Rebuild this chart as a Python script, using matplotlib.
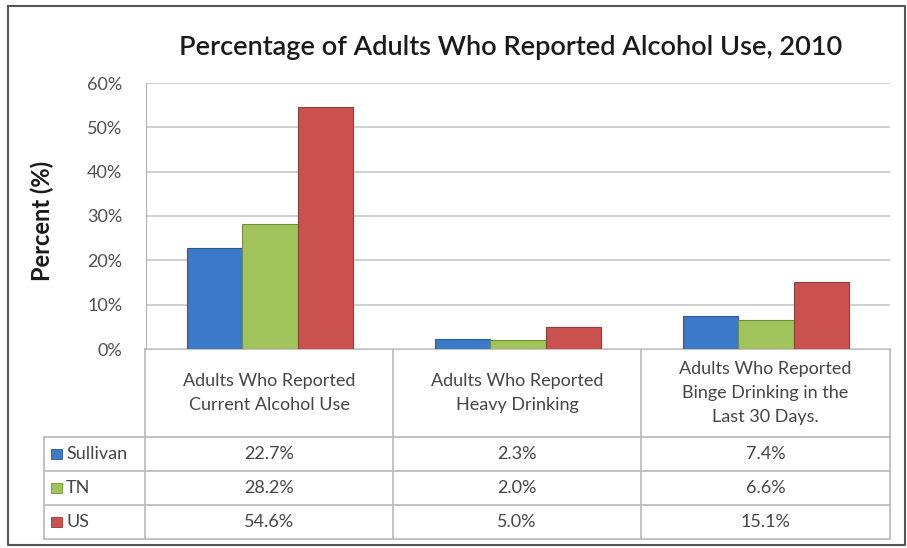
import matplotlib
matplotlib.use('Agg')
import matplotlib.pyplot as plt
import numpy as np

plt.rcParams['font.family'] = ['Lato', 'DejaVu Sans']

categories = ['Adults Who Reported\nCurrent Alcohol Use',
              'Adults Who Reported\nHeavy Drinking',
              'Adults Who Reported\nBinge Drinking in the\nLast 30 Days.']
series = ['Sullivan', 'TN', 'US']
sullivan = [22.7, 2.3, 7.4]
tn = [28.2, 2.0, 6.6]
us = [54.6, 5.0, 15.1]
colors = ['#3d79c9', '#a0c45b', '#ca514e']
edges = ['#2c5a96', '#72913a', '#943a37']
yticks = [0, 10, 20, 30, 40, 50, 60]

W, H = 907, 548
fig = plt.figure(figsize=(W / 100, H / 100), dpi=100)

# pixel overlay for border and table
ov = fig.add_axes([0, 0, 1, 1])
ov.set_xlim(0, W)
ov.set_ylim(H, 0)
ov.axis('off')

# main bar axes
x0, x1, ytop, ybot = 146, 890, 83, 349
ax = fig.add_axes([x0 / W, 1 - ybot / H, (x1 - x0) / W, (ybot - ytop) / H])
x = np.arange(len(categories))
bw = 0.222
data = [sullivan, tn, us]
for i in range(3):
    ax.bar(x + (i - 1) * bw, data[i], bw, color=colors[i], edgecolor=edges[i],
           linewidth=0.8, zorder=3)
ax.set_xlim(-0.5, 2.5)
ax.set_ylim(0, 60)
ax.set_yticks(yticks)
ax.set_yticklabels([str(t) + '%' for t in yticks], fontsize=13, color='#505050')
ax.tick_params(axis='y', length=0, pad=17)
ax.set_xticks([])
ax.grid(axis='y', color='#c8c8c8', linewidth=1.2, zorder=0)
for s in ['top', 'right', 'bottom']:
    ax.spines[s].set_visible(False)
ax.spines['left'].set_color('#b0b0b0')

# title and y label
fig.text(511 / W, 1 - 47 / H, 'Percentage of Adults Who Reported Alcohol Use, 2010',
         ha='center', va='center', fontsize=19.5, fontweight='semibold', color='#1a1a1a')
fig.text(42 / W, 1 - 221 / H, 'Percent (%)', rotation=90, ha='center', va='center',
         fontsize=17, fontweight='bold', color='#1a1a1a')

# outer border
ov.plot([8, 905, 905, 8, 8], [6, 6, 545, 545, 6], color='#555555', lw=1.5)

# data table
gc = '#b8b8b8'
col_x = [145, 393, 641, 890]
row_y = [349, 437, 471, 505, 539]
tl = 44
for cx in col_x:
    ov.plot([cx, cx], [row_y[0], row_y[-1]], color=gc, lw=1.2)
ov.plot([tl, tl], [row_y[1], row_y[-1]], color=gc, lw=1.2)
ov.plot([col_x[0], col_x[-1]], [row_y[0], row_y[0]], color=gc, lw=1.2)
for ry in row_y[1:]:
    ov.plot([tl, col_x[-1]], [ry, ry], color=gc, lw=1.2)

for j, cat in enumerate(categories):
    cx = (col_x[j] + col_x[j + 1]) / 2
    ov.text(cx, (row_y[0] + row_y[1]) / 2, cat, ha='center', va='center',
            fontsize=13, color='#454545', linespacing=1.62)
    for i in range(3):
        ry = (row_y[i + 1] + row_y[i + 2]) / 2
        ov.text(cx, ry, '%.1f%%' % data[i][j], ha='center', va='center',
                fontsize=13, color='#454545')

for i, name in enumerate(series):
    ry = (row_y[i + 1] + row_y[i + 2]) / 2
    ov.add_patch(plt.Rectangle((51, ry - 5), 11, 10, facecolor=colors[i],
                               edgecolor=edges[i], lw=0.6))
    ov.text(66, ry, name, ha='left', va='center', fontsize=13, color='#454545')

fig.savefig('out.png', dpi=100)
